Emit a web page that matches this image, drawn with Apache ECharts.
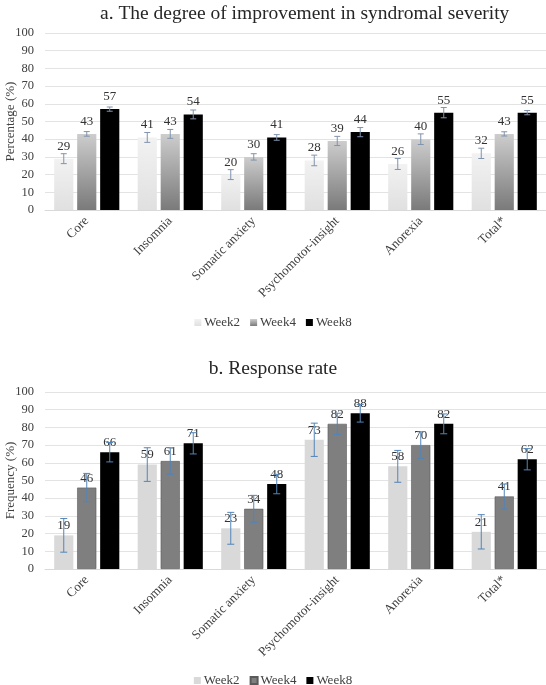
<!DOCTYPE html>
<html>
<head>
<meta charset="utf-8">
<script src="https://cdn.jsdelivr.net/npm/echarts@6/dist/echarts.min.js"></script>
<style>html,body{margin:0;padding:0;background:#fff;}#c{width:546px;height:685px;}</style>
</head>
<body>
<div id="c"></div>
<script>
var categories = ['Core', 'Insomnia', 'Somatic anxiety', 'Psychomotor-insight', 'Anorexia', 'Total*'];
var seriesNames = ['Week2', 'Week4', 'Week8'];
var yTicks = { min: 0, max: 100, interval: 10 };

var severityW2 = [29, 41, 20, 28, 26, 32];
var severityW4 = [43, 43, 30, 39, 40, 43];
var severityW8 = [57, 54, 41, 44, 55, 55];
var severityErrW2 = [2.8, 2.8, 2.8, 3.0, 3.1, 2.9];
var severityErrW4 = [1.3, 2.5, 1.8, 2.6, 3.0, 1.2];
var severityErrW8 = [1.2, 2.5, 1.6, 2.6, 2.9, 1.2];

var responseW2 = [19, 59, 23, 73, 58, 21];
var responseW4 = [46, 61, 34, 82, 70, 41];
var responseW8 = [66, 71, 48, 88, 82, 62];
var responseErrW2 = [9.5, 9.5, 9.0, 9.4, 9.0, 9.7];
var responseErrW4 = [8.0, 7.5, 7.6, 6.0, 7.5, 7.0];
var responseErrW8 = [5.5, 6.0, 5.5, 5.0, 5.6, 6.0];

var FONT = 'Liberation Serif';
var CAT_GAP = 0.22, BAR_GAP = 0.2;

function grad(top, bottom) {
  return { type: 'linear', x: 0, y: 0, x2: 0, y2: 1,
    colorStops: [{ offset: 0, color: top }, { offset: 1, color: bottom }] };
}

function barSeries(name, data, color, axisIdx, labelDist, border) {
  return {
    type: 'bar', name: name, data: data,
    xAxisIndex: axisIdx, yAxisIndex: axisIdx,
    barCategoryGap: (CAT_GAP * 100) + '%', barGap: (BAR_GAP * 100) + '%',
    itemStyle: border ? { color: color, borderColor: border, borderWidth: 0.6 } : { color: color },
    label: { show: true, position: 'top', distance: labelDist,
      fontFamily: FONT, fontSize: 13, color: '#333333' },
    z: 2
  };
}

function errSeries(values, errs, idx, axisIdx, color, capW) {
  var data = values.map(function (v, i) { return [i, v, errs[i]]; });
  return {
    type: 'custom', xAxisIndex: axisIdx, yAxisIndex: axisIdx,
    data: data, z: 3, silent: true,
    renderItem: function (params, api) {
      var i = api.value(0), v = api.value(1), e = api.value(2);
      var W = api.size([1, 0])[0];
      var group = W * (1 - CAT_GAP);
      var bw = group / (3 + 2 * BAR_GAP);
      var off = -group / 2 + bw / 2 + idx * bw * (1 + BAR_GAP);
      var pHi = api.coord([i, v + e]);
      var pLo = api.coord([i, v - e]);
      var x = pHi[0] + off;
      var st = { stroke: color, lineWidth: 1 };
      return { type: 'group', children: [
        { type: 'line', shape: { x1: x, y1: pHi[1], x2: x, y2: pLo[1] }, style: st },
        { type: 'line', shape: { x1: x - capW / 2, y1: pHi[1], x2: x + capW / 2, y2: pHi[1] }, style: st },
        { type: 'line', shape: { x1: x - capW / 2, y1: pLo[1], x2: x + capW / 2, y2: pLo[1] }, style: st }
      ] };
    }
  };
}

function xAxis(gridIdx) {
  return {
    type: 'category', data: categories, gridIndex: gridIdx,
    axisTick: { show: false },
    axisLine: { lineStyle: { color: '#d9d9d9' } },
    axisLabel: { rotate: 45, margin: 9, fontFamily: FONT, fontSize: 13, color: '#404040', interval: 0 }
  };
}
function yAxis(gridIdx, name) {
  return {
    type: 'value', gridIndex: gridIdx, min: yTicks.min, max: yTicks.max, interval: yTicks.interval,
    name: name, nameLocation: 'middle', nameGap: 28, nameMoveOverlap: false,
    nameTextStyle: { fontFamily: FONT, fontSize: 13, color: '#404040' },
    axisLine: { show: false }, axisTick: { show: false },
    axisLabel: { margin: 11, fontFamily: FONT, fontSize: 12.5, color: '#404040' },
    splitLine: { lineStyle: { color: '#e3e3e3', width: 1 } }
  };
}

var colsA = [grad('#f2f2f2', '#e0e0e0'), grad('#cdcdcd', '#7a7a7a'), '#000000'];
var colsB = ['#d9d9d9', '#7f7f7f', '#000000'];

var legendBase = { left: 'center', itemWidth: 7, itemHeight: 7, itemGap: 10, icon: 'rect',
  textStyle: { fontFamily: FONT, fontSize: 13, color: '#404040', padding: [0, 0, 0, -2] } };

var option = {
  animation: false,
  backgroundColor: '#ffffff',
  title: [
    { text: 'a. The degree of improvement in syndromal severity', left: 95, top: -1,
      textStyle: { fontFamily: FONT, fontSize: 19.5, fontWeight: 'normal', color: '#262626' } },
    { text: 'b. Response rate', left: 'center', top: 354,
      textStyle: { fontFamily: FONT, fontSize: 19.5, fontWeight: 'normal', color: '#262626' } }
  ],
  legend: [
    Object.assign({}, legendBase, { data: seriesNames.slice(), top: 311 }),
    Object.assign({}, legendBase, {
      data: seriesNames.map(function (n) { return n + ' '; }), top: 669,
      formatter: function (n) { return n.trim(); } })
  ],
  grid: [
    { left: 45, right: 0, top: 33, height: 177, outerBoundsMode: 'none', containLabel: false },
    { left: 45, right: 0, top: 392, height: 177, outerBoundsMode: 'none', containLabel: false }
  ],
  xAxis: [xAxis(0), xAxis(1)],
  yAxis: [yAxis(0, 'Percentage (%)'), yAxis(1, 'Frequency (%)')],
  series: [
    barSeries('Week2', severityW2, colsA[0], 0, 6),
    barSeries('Week4', severityW4, colsA[1], 0, 6),
    barSeries('Week8', severityW8, colsA[2], 0, 6),
    errSeries(severityW2, severityErrW2, 0, 0, '#8093ad', 6),
    errSeries(severityW4, severityErrW4, 1, 0, '#8093ad', 6),
    errSeries(severityW8, severityErrW8, 2, 0, '#8093ad', 6),
    barSeries('Week2 ', responseW2, colsB[0], 1, 3),
    barSeries('Week4 ', responseW4, colsB[1], 1, 3, '#5a5a5a'),
    barSeries('Week8 ', responseW8, colsB[2], 1, 3),
    errSeries(responseW2, responseErrW2, 0, 1, '#5384b8', 7),
    errSeries(responseW4, responseErrW4, 1, 1, '#5384b8', 7),
    errSeries(responseW8, responseErrW8, 2, 1, '#5384b8', 7)
  ]
};

var chart = echarts.init(document.getElementById('c'), null, { renderer: 'canvas' });
chart.setOption(option);
</script>
</body>
</html>
